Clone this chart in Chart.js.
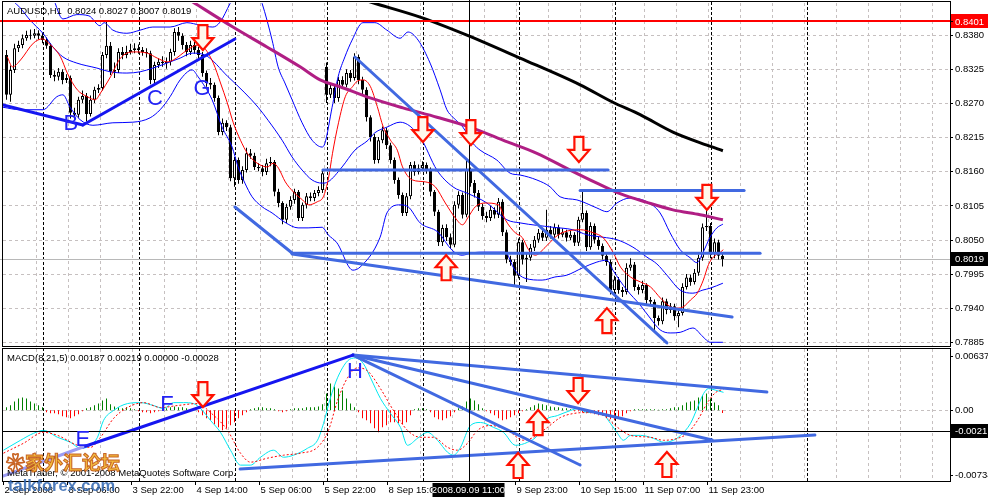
<!DOCTYPE html>
<html><head><meta charset="utf-8">
<script src="https://cdn.jsdelivr.net/npm/chart.js@4.4.0/dist/chart.umd.min.js"></script>
<style>
html,body{margin:0;padding:0;background:#fff;}
#wrap{position:relative;width:988px;height:498px;overflow:hidden;background:#fff;}
#c1{position:absolute;left:0;top:0;}
#c2{position:absolute;left:0;top:347px;}
</style></head><body>
<div id="wrap"><canvas id="c1" width="988" height="347"></canvas><canvas id="c2" width="988" height="151"></canvas></div>
<script>
// ---------------- DATA ----------------
const O = [
.8347,.8283,.8323,.8358,.8363,.8374,.8379,.8378,.8382,.8378,
.8371,.8362,.8315,.8312,.8320,.8307,.8310,.8254,.8251,.8275,
.8281,.8252,.8275,.8291,.8294,.8347,.8362,.8320,.8323,.8352,
.8347,.8352,.8355,.8358,.8355,.8352,.8350,.8307,.8331,.8336,
.8334,.8336,.8352,.8384,.8378,.8363,.8352,.8363,.8355,.8347,
.8318,.8302,.8299,.8278,.8223,.8238,.8231,.8149,.8178,.8146,
.8162,.8189,.8185,.8167,.8165,.8159,.8173,.8175,.8127,.8109,
.8082,.8103,.8114,.8127,.8085,.8106,.8120,.8117,.8125,.8130,
.8328,.8283,.8294,.8278,.8307,.8299,.8318,.8310,.8344,.8307,
.8291,.8247,.8215,.8178,.8210,.8226,.8202,.8178,.8146,.8122,
.8093,.8120,.8170,.8159,.8165,.8170,.8162,.8127,.8095,.8046,
.8069,.8054,.8042,.8106,.8122,.8090,.8162,.8141,.8125,.8103,
.8088,.8085,.8098,.8090,.8111,.8062,.8018,.8014,.7992,.8046,
.8018,.8021,.8037,.8050,.8061,.8053,.8066,.8058,.8070,.8058,
.8062,.8053,.8058,.8045,.8082,.8093,.8038,.8072,.8050,.8040,
.8024,.8014,.7969,.7986,.7969,.7966,.8005,.8010,.7974,.7969,
.7977,.7953,.7950,.7924,.7919,.7951,.7937,.7943,.7927,.7932,
.7974,.7989,.7982,.7997,.8021,.8070,.8072,.8027,.8046,.8024];
const C = [
.8283,.8323,.8358,.8363,.8374,.8379,.8378,.8382,.8378,.8371,
.8362,.8315,.8312,.8320,.8307,.8310,.8254,.8251,.8275,.8281,
.8252,.8275,.8291,.8294,.8347,.8362,.8320,.8323,.8352,.8347,
.8352,.8355,.8358,.8355,.8352,.8350,.8307,.8331,.8336,.8334,
.8336,.8352,.8384,.8378,.8363,.8352,.8363,.8355,.8347,.8318,
.8302,.8299,.8278,.8223,.8238,.8231,.8149,.8178,.8146,.8162,
.8189,.8185,.8167,.8165,.8159,.8173,.8175,.8127,.8109,.8082,
.8103,.8114,.8127,.8085,.8106,.8120,.8117,.8125,.8130,.8157,
.8283,.8294,.8278,.8307,.8299,.8318,.8310,.8344,.8307,.8291,
.8247,.8215,.8178,.8210,.8226,.8202,.8178,.8146,.8122,.8093,
.8120,.8170,.8159,.8165,.8170,.8162,.8127,.8095,.8046,.8069,
.8054,.8042,.8106,.8122,.8090,.8162,.8141,.8125,.8103,.8088,
.8085,.8098,.8090,.8111,.8062,.8018,.8014,.7992,.8046,.8018,
.8021,.8037,.8050,.8061,.8053,.8066,.8058,.8070,.8058,.8062,
.8053,.8058,.8045,.8082,.8093,.8038,.8072,.8050,.8040,.8024,
.8014,.7969,.7986,.7969,.7966,.8005,.8010,.7974,.7969,.7977,
.7953,.7950,.7924,.7919,.7951,.7937,.7943,.7927,.7932,.7974,
.7989,.7982,.7997,.8021,.8070,.8072,.8027,.8046,.8024,.8019];
const H = [
.8355,.8330,.8365,.8370,.8380,.8386,.8388,.8389,.8387,.8383,
.8375,.8366,.8322,.8326,.8324,.8316,.8314,.8262,.8280,.8290,
.8286,.8282,.8296,.8300,.8352,.8403,.8368,.8335,.8358,.8360,
.8362,.8365,.8366,.8364,.8360,.8358,.8354,.8336,.8342,.8345,
.8343,.8357,.8390,.8392,.8382,.8368,.8370,.8368,.8360,.8352,
.8322,.8310,.8303,.8282,.8245,.8242,.8235,.8183,.8182,.8168,
.8198,.8196,.8190,.8173,.8170,.8180,.8183,.8178,.8132,.8112,
.8108,.8120,.8132,.8130,.8110,.8125,.8126,.8130,.8136,.8162,
.8335,.8302,.8298,.8312,.8313,.8324,.8323,.8350,.8348,.8312,
.8295,.8250,.8220,.8215,.8232,.8230,.8206,.8182,.8150,.8126,
.8125,.8175,.8176,.8171,.8176,.8174,.8166,.8130,.8098,.8074,
.8075,.8060,.8112,.8128,.8126,.8178,.8166,.8146,.8130,.8108,
.8095,.8104,.8102,.8117,.8115,.8066,.8024,.8018,.8052,.8050,
.8028,.8043,.8056,.8067,.8066,.8098,.8072,.8076,.8074,.8068,
.8066,.8064,.8062,.8087,.8127,.8097,.8078,.8076,.8055,.8044,
.8028,.8018,.7992,.7990,.7974,.8012,.8020,.8014,.7978,.7984,
.7980,.7958,.7954,.7928,.7957,.7955,.7948,.7947,.7936,.7980,
.7995,.7994,.8003,.8026,.8076,.8098,.8077,.8052,.8050,.8027];
const L = [
.8275,.8272,.8318,.8352,.8358,.8370,.8372,.8374,.8372,.8366,
.8357,.8310,.8305,.8306,.8300,.8302,.8245,.8243,.8246,.8270,
.8240,.8248,.8270,.8286,.8290,.8342,.8315,.8310,.8318,.8340,
.8342,.8348,.8350,.8349,.8346,.8343,.8300,.8302,.8326,.8328,
.8325,.8330,.8346,.8370,.8356,.8345,.8347,.8349,.8340,.8312,
.8296,.8292,.8272,.8218,.8218,.8225,.8144,.8135,.8140,.8140,
.8158,.8180,.8162,.8160,.8152,.8154,.8168,.8120,.8102,.8075,
.8077,.8098,.8108,.8080,.8080,.8100,.8112,.8112,.8120,.8125,
.8270,.8278,.8270,.8272,.8294,.8295,.8304,.8306,.8300,.8284,
.8240,.8208,.8172,.8173,.8205,.8196,.8172,.8140,.8116,.8088,
.8088,.8115,.8153,.8155,.8160,.8156,.8120,.8088,.8040,.8040,
.8048,.8035,.8038,.8100,.8084,.8086,.8135,.8118,.8096,.8082,
.8078,.8080,.8084,.8085,.8056,.8012,.8008,.7977,.7988,.8010,
.7982,.8016,.8032,.8045,.8048,.8048,.8052,.8053,.8052,.8054,
.8047,.8049,.8040,.8040,.8078,.8032,.8034,.8044,.8034,.8018,
.8008,.7962,.7961,.7963,.7958,.7962,.8000,.7968,.7962,.7964,
.7946,.7944,.7901,.7912,.7914,.7930,.7932,.7920,.7909,.7928,
.7970,.7976,.7978,.7992,.8016,.8064,.8020,.8020,.8018,.8007];

// indicator lines: [bar index, value]
const bbUpper = [[-0.9,.8520],[43.4,.8480],[53,.8440],[59,.8400],[63,.8405],[66,.8418],[72,.8425],[77,.8420],[84,.8415],[90,.8392],[95,.8393],[99,.8398],[104.4,.8399],[106.6,.8387],[110.1,.8382],[113.4,.8387],[116.6,.8392],[120.9,.8392],[125.1,.8399],[128.4,.8395],[131.6,.8392],[133.4,.8400],[135.9,.8430],[138.4,.8460]];
const bbUpper2 = [[43.4,.8480],[53,.8440],[57,.8410],[62,.8398],[67.4,.8399],[70,.8395],[75,.8390],[80,.8386],[86.6,.8387],[90.1,.8382],[93.4,.8387],[96.6,.8392],[100.9,.8392],[105.1,.8399],[108.4,.8395],[111.6,.8392],[113.4,.8400],[115.9,.8430],[118.4,.8460]];
const bbUp = [[-0.9,.8500],[9,.8480],[11.6,.8440],[14.1,.8405],[17.6,.8412],[20.6,.8410],[23.4,.8394],[24.4,.8399],[26.6,.8387],[30.1,.8382],[33.4,.8387],[36.6,.8392],[40.9,.8392],[45.1,.8399],[48.4,.8395],[51.6,.8392],[53.4,.8400],[55.9,.8430],[58.4,.8460],[62.1,.8460],[63.9,.8430],[66.4,.8371],[67.9,.8328],[69.6,.8302],[71.4,.8275],[73.9,.8238],[76.4,.8210],[78.9,.8199],[79.6,.8205],[81.4,.8263],[82.9,.8312],[84.6,.8344],[86.4,.8371],[89.1,.8399],[92.1,.8399],[95.1,.8387],[98.4,.8374],[100.4,.8384],[102.9,.8371],[105.9,.8334],[108.4,.8291],[110.1,.8259],[111.6,.8247],[114.1,.8231],[116.6,.8205],[118.4,.8194],[122.6,.8178],[125.9,.8157],[128.4,.8154],[132.6,.8146],[135.9,.8135],[138.4,.8119],[142.6,.8114],[147.6,.8101],[150.1,.8095],[152.6,.8109],[155.9,.8117],[160.1,.8111],[163.4,.8093],[165.9,.8061],[168.4,.8034],[170.9,.8021],[172.6,.8013],[174.1,.8029],[175.9,.8054],[177.6,.8069],[179.1,.8075]];
const bbMid = [[-0.9,.8448],[3.4,.8423],[5.9,.8403],[9.1,.8382],[11.6,.8360],[14.1,.8344],[17.6,.8334],[22.6,.8326],[25.9,.8320],[30.1,.8318],[33.4,.8320],[36.6,.8326],[40.1,.8334],[43.4,.8342],[46.4,.8350],[49.6,.8347],[55.4,.8312],[59.6,.8286],[62.9,.8263],[65.4,.8242],[68.9,.8210],[71.4,.8183],[73.9,.8162],[76.4,.8146],[78.9,.8141],[80.4,.8143],[83.9,.8167],[87.1,.8194],[90.4,.8210],[92.1,.8222],[95.1,.8231],[98.4,.8239],[103.4,.8215],[107.6,.8162],[111.6,.8135],[115.1,.8125],[120.1,.8109],[125.1,.8082],[128.4,.8077],[136.6,.8070],[141.6,.8066],[145.1,.8058],[149.1,.8054],[152.6,.8050],[156.6,.8038],[160.1,.8022],[162.6,.8011],[165.1,.7993],[168.4,.7969],[171.6,.7964],[174.1,.7969],[175.9,.7972],[179.1,.7980]];
const bbLow = [[-0.9,.8263],[3.4,.8259],[9.1,.8259],[12.6,.8280],[14.1,.8283],[15.9,.8263],[18.4,.8243],[21.6,.8234],[26.6,.8238],[31.6,.8239],[35.9,.8246],[38.4,.8259],[40.9,.8280],[43.4,.8307],[46.4,.8323],[47.9,.8312],[51.4,.8275],[53.9,.8231],[56.4,.8199],[57.9,.8167],[59.6,.8141],[61.4,.8119],[63.9,.8103],[66.4,.8093],[69.6,.8078],[72.9,.8069],[75.4,.8069],[78.9,.8070],[80.4,.8058],[82.6,.8045],[86.6,.8001],[88.4,.8006],[93.4,.8054],[95.1,.8093],[98.4,.8106],[100.4,.8103],[103.4,.8077],[107.9,.8062],[111.4,.8033],[113.9,.8025],[116.4,.8029],[119.6,.8030],[124.6,.8030],[127.1,.8001],[129.6,.7988],[133.9,.7985],[137.1,.7990],[140.1,.7993],[144.1,.8005],[147.6,.8014],[150.1,.8017],[151.6,.8001],[155.1,.7969],[158.4,.7945],[160.9,.7924],[163.4,.7905],[165.9,.7900],[168.4,.7901],[171.6,.7908],[174.1,.7894],[175.9,.7885],[179.1,.7885]];
const maFast = [[0.2,.8344],[1.5,.8328],[3.5,.8339],[6.7,.8366],[9,.8373],[10.2,.8368],[13.5,.8344],[15.2,.8318],[17.7,.8291],[20.2,.8280],[22.2,.8275],[23.5,.8286],[26,.8312],[28.5,.8342],[31.7,.8352],[35.2,.8350],[37.7,.8342],[40.2,.8336],[41.7,.8339],[45.2,.8355],[47.7,.8363],[49.2,.8360],[51.7,.8334],[53.5,.8302],[55.2,.8270],[56.7,.8238],[58.5,.8210],[60.2,.8189],[61.7,.8178],[63.5,.8170],[65.2,.8167],[66.7,.8173],[68,.8165],[69.7,.8143],[71.7,.8127],[74,.8114],[75.5,.8106],[77.7,.8111],[79.2,.8119],[80.5,.8149],[81.5,.8189],[83,.8238],[84.7,.8280],[86.5,.8296],[87.7,.8305],[89.2,.8307],[91,.8296],[92.7,.8264],[94.2,.8231],[96,.8210],[97.7,.8194],[99,.8167],[101.5,.8146],[104.7,.8143],[107.2,.8135],[109.7,.8109],[112.2,.8085],[114,.8074],[115.5,.8087],[117.2,.8103],[119.7,.8109],[123,.8106],[124.7,.8082],[127.2,.8061],[129,.8053],[130.5,.8034],[132.2,.8025],[134.7,.8038],[137.2,.8054],[139.2,.8062],[143.5,.8066],[146.7,.8061],[149.2,.8053],[151.7,.8029],[153.5,.8006],[156,.7990],[158.5,.7982],[161,.7974],[163.5,.7956],[166,.7942],[167.7,.7940],[169.2,.7942],[171,.7953],[172.7,.7964],[174.2,.7985],[175.5,.8010],[176.7,.8022],[178.5,.8030],[179.2,.8034]];
const maSlow = [[43.4,.8445],[45.9,.8435],[56.6,.8392],[65.1,.8360],[73.4,.8328],[78.4,.8307],[83.4,.8296],[90.9,.8278],[99.1,.8262],[107.6,.8247],[115.9,.8231],[124.1,.8210],[132.6,.8189],[140.9,.8162],[147.6,.8141],[153.4,.8124],[160.1,.8110],[166.6,.8098],[173.4,.8090],[179.1,.8082]];
const maLong = [[87.1,.8440],[91.6,.8431],[103.4,.8408],[115.1,.8379],[128.4,.8342],[143.4,.8299],[151.6,.8271],[158.4,.8251],[166.6,.8223],[175.1,.8202],[179.1,.8193]];

const macdMain = [[-0.75,-.00414],[3.5,-.00311],[6.75,-.00239],[9.25,-.00208],[12.75,-.0028],[16,-.00332],[18.5,-.00394],[21,-.00363],[22.75,-.0028],[24.25,-.00105],[26.75,-.00002],[30.25,.0007],[33.5,.0008],[36.75,.0005],[39.25,.00019],[41.75,.0008],[44.25,.0008],[46.75,.0007],[48.5,.00019],[51,-.00105],[53.5,-.00229],[56,-.00414],[58.5,-.00569],[61,-.00569],[63.5,-.00487],[66.75,-.00414],[69.25,-.00487],[71.75,-.00466],[75.25,-.00394],[77.75,-.00311],[79.25,-.00136],[81,.00132],[82.75,.00338],[85.25,.00513],[87.25,.00544],[89.25,.00483],[91,.00338],[93.5,.00122],[96,-.00033],[98.5,-.00177],[100.25,-.00363],[102.75,-.00291],[105.25,-.00229],[107.75,-.00311],[110.25,-.00435],[111.75,-.00466],[113.5,-.00384],[116,-.00157],[118.5,-.00126],[121.75,-.00177],[124.25,-.00229],[127.25,-.00363],[130.25,-.00332],[132.75,-.0026],[134.75,-.00105],[137.75,-.00054],[141,-.00002],[142.75,.00019],[145.25,-.00023],[148.5,-.00023],[151,-.00136],[152.75,-.00239],[154.25,-.00311],[156,-.0026],[158.5,-.0026],[161.75,-.00291],[164.25,-.00332],[166.75,-.00311],[168.5,-.0026],[171,-.00136],[172.75,.00029],[174.25,.00173],[175.5,.00225],[177.75,.00204],[179.25,.00187]];
const macdSignal = [[-0.75,-.00445],[4.25,-.00342],[9.25,-.00229],[12.75,-.0026],[17.75,-.00363],[21,-.00384],[23.5,-.0028],[26.75,-.00085],[30.25,.00029],[34.25,.0008],[38.5,.00029],[42.75,.0005],[47.75,.0007],[51,-.00023],[55.25,-.00208],[58.5,-.00445],[61,-.00538],[65.25,-.00497],[69.25,-.00466],[73.5,-.00445],[77.75,-.00384],[80.5,-.00208],[82.75,.00101],[85.25,.00338],[87.75,.00441],[90.25,.0041],[93.5,.00225],[96.75,-.00002],[100.25,-.00208],[103.5,-.0028],[106.75,-.0028],[110.25,-.00384],[112.75,-.00414],[115.25,-.00342],[117.75,-.00208],[121,-.00157],[125.25,-.00208],[129.25,-.00311],[131.75,-.0028],[135.25,-.00177],[138.5,-.00074],[141.75,-.00033],[145.25,-.00023],[149.25,-.00054],[152.75,-.00177],[156,-.0026],[161,-.0028],[164.25,-.00311],[167.75,-.00291],[170.25,-.00239],[172.75,-.00105],[175.25,.0008],[177.25,.00184],[179.25,.00219]];
const macdHist = [
.00031,.00052,.00093,.00124,.00134,.00124,.00093,.00072,.00052,.00031,
-.00021,-.00031,-.00031,-.00041,-.00062,-.00072,-.00082,-.00062,-.00041,-.0001,
.00021,.00031,.00052,.00072,.00103,.00124,.00062,.00041,.00031,.00021,
.00031,.00021,.0001,-.0001,-.00021,-.00021,-.00031,-.00021,-.0001,.0001,
.00021,.00031,.00041,.00031,.00031,.00021,.0001,.00005,-.00021,-.00052,
-.00082,-.00103,-.00144,-.00175,-.00206,-.00186,-.00155,-.00124,-.00082,-.00052,
-.00021,.0001,.00021,.00031,.00031,.00021,.00021,.0001,-.0001,-.00021,
-.0001,.0001,.00021,.00021,.00021,.00031,.00031,.00031,.00041,.00062,
.00175,.00278,.00247,.00227,.00206,.00124,.00072,.00031,-.00021,-.00082,
-.00103,-.00134,-.00186,-.00227,-.00175,-.00155,-.00124,-.00124,-.00134,-.00144,
-.00124,-.00052,.0001,.00021,.00021,.0001,-.00021,-.00072,-.00093,-.00103,
-.00082,-.00062,-.00021,.00021,.00041,.00093,.00124,.00103,.00062,.00021,
-.0001,-.00031,-.00052,-.00082,-.00103,-.00093,-.00072,-.00052,-.00031,-.0001,
.0001,.00031,.00052,.00072,.00062,.00052,.00041,.00031,.00031,.00021,
.00021,.0001,-.0001,-.0001,-.00021,-.00031,-.00031,-.00041,-.00052,-.00052,
-.00072,-.00093,-.00103,-.00082,-.00062,-.00031,-.0001,.0001,.0001,.0001,
.0001,.0001,.0001,.00005,.0001,.0001,.00021,.00031,.00031,.00052,
.00082,.00093,.00103,.00134,.00155,.00175,.00124,.00082,.00052,-.00028];

// trend lines drawn on the chart
const trendMain = [
 {pts:[[-0.875,.82666],[19.1,.82345]], color:'#1515f0'},
 {pts:[[19.1,.82345],[57.1,.83728]], color:'#1515f0'},
 {pts:[[57.1,.81026],[71.4,.80286]], color:'#4169e1'},
 {pts:[[71.4,.8028],[188.4,.8028]], color:'#4169e1'},
 {pts:[[71.4,.8027],[181.4,.79256]], color:'#4169e1'},
 {pts:[[79.1,.81621],[150.4,.81621]], color:'#4169e1'},
 {pts:[[143.4,.81291],[184.4,.81291]], color:'#4169e1'},
 {pts:[[87.1,.83438],[165.1,.78839]], color:'#4169e1'}
];
const trendMacd = [
 {pts:[[-0.875,-.00682],[19.1,-.00381]], color:'#9c9cf2'},
 {pts:[[19.1,-.00381],[86.6,.00574]], color:'#1515f0'},
 {pts:[[86.6,.00574],[190.1,.0019]], color:'#4169e1'},
 {pts:[[86.6,.00574],[176.4,-.00308]], color:'#4169e1'},
 {pts:[[86.6,.00574],[143.4,-.00568]], color:'#4169e1'},
 {pts:[[58.4,-.0061],[202.1,-.00257]], color:'#4169e1'}
];
const downArrowsMain = [[49.1,.8355],[104.1,.8207],[116.1,.8202],[143.1,.8175],[175.1,.8098]];
const upArrowsMain = [[109.9,.8025],[150.1,.7940]];
const downArrowsMacd = [[49.1,.00034],[142.9,.00076]];
const upArrowsMacd = [[132.9,.00003],[127.9,-.00443],[165.1,-.00433]];
const lettersMain = [['B',16.1,.8236],['C',37.1,.8276],['G',48.9,.8292]];
const lettersMacd = [['E',19.1,-.00308],['F',40.1,.00055],['H',87.1,.00398]];

const priceTicks = [0.8380,0.8325,0.8270,0.8215,0.8160,0.8105,0.8050,0.7995,0.7940,0.7885];
const resistLevel = 0.8401;
const lastPrice = 0.8019;
const macdLevel = -0.0021;
const macdMax = 0.00637, macdMin = -0.00734;
const daySeps = [9,33,57,80,104,128,152,176,200];
const timeLabels = [[-1,'2 Sep 2008'],[15,'3 Sep 06:00'],[31,'3 Sep 22:00'],[47,'4 Sep 14:00'],[63,'5 Sep 06:00'],[79,'5 Sep 22:00'],[95,'8 Sep 15:00'],[127,'9 Sep 23:00'],[143,'10 Sep 15:00'],[159,'11 Sep 07:00'],[175,'11 Sep 23:00']];
const cursorBar = 115.5, cursorText = '2008.09.09 11:00';
const headerMain = 'AUDUSD,H1  0.8024 0.8027 0.8007 0.8019';
const headerMacd = 'MACD(8,21,5) 0.00187 0.00219 0.00000 -0.00028';

// ---------------- RENDER ----------------
const X_MIN = -0.875, X_MAX = 235.875;
const FF = '"Liberation Sans", Arial, sans-serif';
const F9 = '9.5px ' + FF;
Chart.defaults.font.family = FF;

function seg(ctx,x1,y1,x2,y2){ctx.beginPath();ctx.moveTo(x1,y1);ctx.lineTo(x2,y2);ctx.stroke();}
const pxX = (ch,v)=>ch.scales.x.getPixelForValue(v);
const pxY = (ch,v)=>ch.scales.y.getPixelForValue(v);

function drawGrid(ch, hLevels){
  const ctx=ch.ctx, a=ch.chartArea;
  ctx.save(); ctx.lineWidth=1;
  ctx.strokeStyle='#c6c0c0'; ctx.setLineDash([3,3]);
  for(let k=1;k<30;k++){ const x=Math.round(pxX(ch,-0.625+8*k))+0.5; if(x<a.right-1) seg(ctx,x,a.top,x,a.bottom); }
  hLevels.forEach(v=>{ const y=Math.round(pxY(ch,v))+0.5; seg(ctx,a.left,y,a.right,y); });
  ctx.strokeStyle='#000'; ctx.setLineDash([3,2]);
  daySeps.forEach(d=>{ const x=Math.round(pxX(ch,d))+0.5; seg(ctx,x,a.top-1,x,a.bottom); });
  ctx.restore();
}
function arrow(ctx,cx,tip,dir){
  const pts=[[-4.5,-25],[4.5,-25],[4.5,-12],[10.5,-12],[0,0],[-10.5,-12],[-4.5,-12]];
  ctx.beginPath();
  pts.forEach(([dx,dy],k)=>{const X=cx+dx, Y=tip+dy*dir; if(k) ctx.lineTo(X,Y); else ctx.moveTo(X,Y);});
  ctx.closePath();
  ctx.fillStyle='#fff8ec'; ctx.fill();
  ctx.lineJoin='miter'; ctx.lineWidth=2.2; ctx.strokeStyle='#ff1000'; ctx.stroke();
}
function axisLabel(ctx,y,text,bg){
  ctx.font=F9; ctx.textBaseline='middle'; ctx.textAlign='left';
  if(bg){ ctx.fillStyle=bg; ctx.fillRect(951,Math.round(y)-7,37,14); ctx.fillStyle='#fff'; }
  else { ctx.fillStyle='#000'; }
  ctx.fillText(text,955,y+0.5);
  ctx.strokeStyle='#000'; ctx.lineWidth=1; seg(ctx,950,Math.round(y)+0.5,953,Math.round(y)+0.5);
}
function lineDs(pairs,color,width,order,extra){
  return Object.assign({type:'line', data:pairs.map(p=>({x:p[0],y:p[1]})), borderColor:color, borderWidth:width,
    pointRadius:0, fill:false, order:order, cubicInterpolationMode:'monotone'}, extra||{});
}

// ---- main chart ----
const wickData = O.map((o,i)=>({x:i, y:[L[i],H[i]]}));
const bodyData = O.map((o,i)=>({x:i, y:[Math.min(o,C[i]),Math.max(o,C[i])]}));
const bodyColors = O.map((o,i)=> C[i]>=o ? '#ffffff' : '#000000');

const mainPlugin = {
  id:'mainDecor',
  beforeDatasetsDraw(ch){
    drawGrid(ch, priceTicks);
    const ctx=ch.ctx, a=ch.chartArea;
    ctx.save(); ctx.strokeStyle='#b8b8b8'; ctx.lineWidth=1;
    const y=Math.round(pxY(ch,lastPrice))+0.5; seg(ctx,0,y,a.right,y);
    ctx.restore();
  },
  afterDatasetsDraw(ch){
    const ctx=ch.ctx, a=ch.chartArea;
    ctx.save();
    // resistance line
    ctx.strokeStyle='#ff0000'; ctx.lineWidth=2;
    const yr=Math.round(pxY(ch,resistLevel)); seg(ctx,0,yr,a.right,yr);
    // cursor
    ctx.strokeStyle='#000'; ctx.lineWidth=1;
    const xc=Math.round(pxX(ch,cursorBar))+0.5; seg(ctx,xc,0,xc,347);
    // arrows
    downArrowsMain.forEach(p=>arrow(ctx,pxX(ch,p[0]),pxY(ch,p[1]),1));
    upArrowsMain.forEach(p=>arrow(ctx,pxX(ch,p[0]),pxY(ch,p[1]),-1));
    // letters
    ctx.font='22px '+FF; ctx.fillStyle='#2323f5'; ctx.textAlign='center'; ctx.textBaseline='middle';
    lettersMain.forEach(l=>ctx.fillText(l[0],pxX(ch,l[1]),pxY(ch,l[2])));
    // header
    ctx.font=F9; ctx.fillStyle='#000'; ctx.textAlign='left'; ctx.textBaseline='middle';
    ctx.fillText(headerMain,7,11);
    // frame
    ctx.strokeStyle='#000'; ctx.lineWidth=1;
    ctx.strokeRect(2.5,1.5,948,345);
    ctx.fillStyle='#fff'; ctx.fillRect(951,0,37,347);
    priceTicks.forEach(v=>axisLabel(ctx,pxY(ch,v),v.toFixed(4)));
    axisLabel(ctx,pxY(ch,resistLevel),resistLevel.toFixed(4),'#ff0000');
    axisLabel(ctx,pxY(ch,lastPrice),lastPrice.toFixed(4),'#000');
    ctx.restore();
  }
};

const mainDatasets = [
  {type:'bar', data:wickData, backgroundColor:'#000', borderWidth:0, barThickness:1, grouped:false, order:20, inflateAmount:0, minBarLength:1},
  {type:'bar', data:bodyData, backgroundColor:bodyColors, borderColor:'#000', borderWidth:1, borderSkipped:false, barThickness:3, grouped:false, order:19, inflateAmount:0, minBarLength:1},
  lineDs(bbUp,'#0000ff',1,10),
  lineDs(bbMid,'#0000ff',1,10),
  lineDs(bbLow,'#0000ff',1,10),
  lineDs(maFast,'#ff0000',1,9),
  lineDs(maSlow,'#b01e84',3,8),
  lineDs(maLong,'#000000',3,8)
];
trendMain.forEach(t=>mainDatasets.push(lineDs(t.pts,t.color,3,2,{cubicInterpolationMode:'default',tension:0,borderCapStyle:'round'})));

new Chart(document.getElementById('c1'), {
  type:'bar',
  data:{datasets:mainDatasets},
  options:{
    responsive:false, animation:false, events:[],
    layout:{padding:{left:3,right:38,top:3,bottom:1}},
    plugins:{legend:{display:false}, tooltip:{enabled:false}},
    scales:{
      x:{type:'linear', min:X_MIN, max:X_MAX, display:false, offset:false},
      y:{type:'linear', min:0.787903, max:0.843066, display:false}
    }
  },
  plugins:[mainPlugin]
});

// ---- MACD chart ----
const histData = macdHist.map((v,i)=>({x:i,y:v}));
const histColors = macdHist.map(v=> v>=0 ? '#008000' : '#ff0000');

const macdPlugin = {
  id:'macdDecor',
  beforeDatasetsDraw(ch){ drawGrid(ch,[0]); },
  afterDatasetsDraw(ch){
    const ctx=ch.ctx, a=ch.chartArea;
    ctx.save();
    ctx.strokeStyle='#000'; ctx.lineWidth=1;
    const yl=Math.round(pxY(ch,macdLevel))+0.5; seg(ctx,a.left,yl,a.right,yl);
    const xc=Math.round(pxX(ch,cursorBar))+0.5; seg(ctx,xc,0,xc,136);
    downArrowsMacd.forEach(p=>arrow(ctx,pxX(ch,p[0]),pxY(ch,p[1]),1));
    upArrowsMacd.forEach(p=>arrow(ctx,pxX(ch,p[0]),pxY(ch,p[1]),-1));
    ctx.font='22px '+FF; ctx.fillStyle='#2323f5'; ctx.textAlign='center'; ctx.textBaseline='middle';
    lettersMacd.forEach(l=>ctx.fillText(l[0],pxX(ch,l[1]),pxY(ch,l[2])));
    ctx.font=F9; ctx.fillStyle='#000'; ctx.textAlign='left'; ctx.textBaseline='middle';
    ctx.fillText(headerMacd,7,11);
    ctx.fillText('MetaTrader, \u00a9 2001-2008 MetaQuotes Software Corp.',7,126);
    // frame
    ctx.strokeStyle='#000'; ctx.lineWidth=1; ctx.strokeRect(2.5,1.5,948,133);
    ctx.fillStyle='#fff'; ctx.fillRect(951,0,37,151); ctx.fillRect(0,135,951,16);
    axisLabel(ctx,pxY(ch,macdMax)+7,macdMax.toFixed(5));
    axisLabel(ctx,pxY(ch,0),'0.00');
    axisLabel(ctx,pxY(ch,macdMin)-6,macdMin.toFixed(5));
    axisLabel(ctx,pxY(ch,macdLevel),macdLevel.toFixed(4),'#000');
    // time axis
    ctx.font=F9; ctx.fillStyle='#000'; ctx.textAlign='left'; ctx.textBaseline='middle';
    timeLabels.forEach(t=>{ const x=Math.round(pxX(ch,t[0]))+0.5; seg(ctx,x,135,x,138); ctx.fillText(t[1],x+1,143.5); });
    ctx.fillStyle='#000'; ctx.fillRect(xc-37,136,72,14);
    ctx.fillStyle='#fff'; ctx.textAlign='center'; ctx.fillText(cursorText,xc-1,143.5);
    // watermark
    ctx.globalAlpha=0.85;
    ctx.font='bold 19px "Noto Sans CJK SC", sans-serif'; ctx.textAlign='left';
    ctx.fillStyle='#f0b020'; ctx.strokeStyle='#c05010'; ctx.lineWidth=1;
    ctx.fillText('\u2740\u5bb6\u5916\u6c47\u8bba\u575b',6,116); ctx.strokeText('\u2740\u5bb6\u5916\u6c47\u8bba\u575b',6,116);
    ctx.font='bold 16.5px '+FF; ctx.fillStyle='#2f65b0';
    ctx.fillText('talkforex.com',8,139);
    ctx.restore();
  }
};

const macdDatasets = [
  {type:'bar', data:histData, backgroundColor:histColors, borderWidth:0, barThickness:1, grouped:false, order:20, inflateAmount:0},
  lineDs(macdMain,'#00e8f0',1,10),
  lineDs(macdSignal,'#ff0000',1,9,{borderDash:[2,2]})
];
trendMacd.forEach(t=>macdDatasets.push(lineDs(t.pts,t.color,3,2,{cubicInterpolationMode:'default',tension:0,borderCapStyle:'round'})));

new Chart(document.getElementById('c2'), {
  type:'bar',
  data:{datasets:macdDatasets},
  options:{
    responsive:false, animation:false, events:[],
    layout:{padding:{left:3,right:38,top:2,bottom:17}},
    plugins:{legend:{display:false}, tooltip:{enabled:false}},
    scales:{
      x:{type:'linear', min:X_MIN, max:X_MAX, display:false, offset:false},
      y:{type:'linear', min:macdMin, max:macdMax, display:false}
    }
  },
  plugins:[macdPlugin]
});
</script>
</body></html>
